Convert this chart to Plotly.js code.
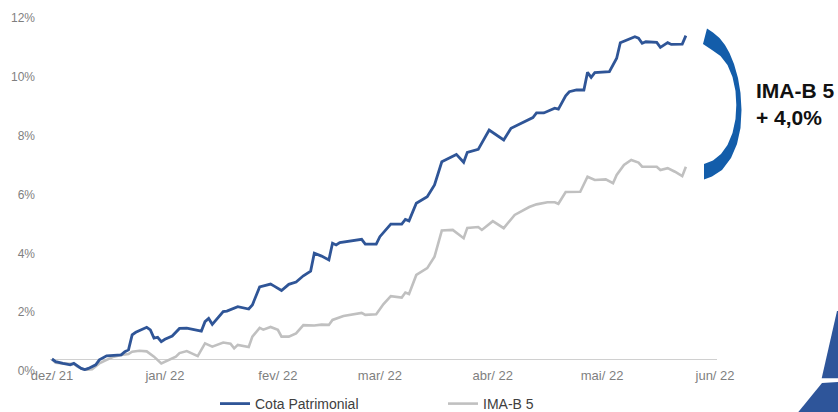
<!DOCTYPE html>
<html>
<head>
<meta charset="utf-8">
<script src="https://cdn.plot.ly/plotly-3.0.1.min.js"></script>
<style>html,body{margin:0;padding:0;background:#fff;}#chart{width:838px;height:412px;}</style>
</head>
<body>
<div id="chart"></div>
<script>
// ---- data (cumulative return, %) ----
const datesCota = ["2021-12-01","2021-12-02","2021-12-04","2021-12-06","2021-12-07","2021-12-09","2021-12-10","2021-12-11","2021-12-13","2021-12-14","2021-12-16","2021-12-20","2021-12-21","2021-12-22","2021-12-23","2021-12-24","2021-12-27","2021-12-28","2021-12-29","2021-12-30","2021-12-31","2022-01-01","2022-01-03","2022-01-05","2022-01-07","2022-01-11","2022-01-12","2022-01-13","2022-01-14","2022-01-17","2022-01-18","2022-01-21","2022-01-24","2022-01-25","2022-01-27","2022-01-30","2022-01-31","2022-02-02","2022-02-04","2022-02-06","2022-02-08","2022-02-10","2022-02-11","2022-02-13","2022-02-15","2022-02-16","2022-02-17","2022-02-18","2022-02-24","2022-02-25","2022-02-28","2022-03-01","2022-03-04","2022-03-07","2022-03-08","2022-03-09","2022-03-11","2022-03-14","2022-03-16","2022-03-18","2022-03-22","2022-03-24","2022-03-25","2022-03-28","2022-03-31","2022-04-04","2022-04-06","2022-04-12","2022-04-13","2022-04-15","2022-04-18","2022-04-19","2022-04-21","2022-04-22","2022-04-24","2022-04-26","2022-04-27","2022-04-28","2022-04-29","2022-05-03","2022-05-05","2022-05-06","2022-05-10","2022-05-11","2022-05-12","2022-05-13","2022-05-16","2022-05-17","2022-05-19","2022-05-20","2022-05-23","2022-05-24"];
const valuesCota = [0.00,-0.09,-0.15,-0.20,-0.15,-0.32,-0.36,-0.32,-0.20,-0.03,0.11,0.14,0.25,0.31,0.82,0.91,1.08,0.99,0.71,0.74,0.59,0.67,0.78,1.04,1.05,0.95,1.27,1.38,1.18,1.61,1.63,1.78,1.70,1.84,2.45,2.55,2.48,2.33,2.54,2.62,2.83,2.99,3.60,3.50,3.37,3.94,3.88,3.96,4.07,3.91,3.91,4.16,4.59,4.59,4.75,4.70,5.30,5.52,5.92,6.71,6.96,6.69,7.03,7.13,7.79,7.45,7.85,8.21,8.37,8.37,8.53,8.50,8.95,9.09,9.15,9.15,9.75,9.58,9.74,9.77,10.23,10.76,10.96,10.91,10.74,10.79,10.77,10.60,10.76,10.70,10.71,11.00];

const datesIma = ["2021-12-01","2021-12-02","2021-12-04","2021-12-07","2021-12-08","2021-12-10","2021-12-12","2021-12-14","2021-12-16","2021-12-18","2021-12-20","2021-12-22","2021-12-23","2021-12-25","2021-12-27","2021-12-29","2021-12-31","2022-01-02","2022-01-04","2022-01-05","2022-01-07","2022-01-10","2022-01-12","2022-01-14","2022-01-17","2022-01-19","2022-01-20","2022-01-21","2022-01-24","2022-01-25","2022-01-27","2022-01-28","2022-01-30","2022-02-01","2022-02-02","2022-02-04","2022-02-06","2022-02-08","2022-02-11","2022-02-13","2022-02-15","2022-02-16","2022-02-19","2022-02-24","2022-02-25","2022-02-28","2022-03-02","2022-03-04","2022-03-07","2022-03-08","2022-03-09","2022-03-11","2022-03-14","2022-03-16","2022-03-18","2022-03-21","2022-03-24","2022-03-25","2022-03-28","2022-03-29","2022-04-01","2022-04-04","2022-04-07","2022-04-11","2022-04-13","2022-04-16","2022-04-18","2022-04-19","2022-04-21","2022-04-25","2022-04-27","2022-04-29","2022-05-02","2022-05-04","2022-05-05","2022-05-07","2022-05-09","2022-05-11","2022-05-12","2022-05-16","2022-05-17","2022-05-19","2022-05-21","2022-05-23","2022-05-24"];
const valuesIma = [0.00,-0.13,-0.15,-0.17,-0.26,-0.37,-0.35,-0.15,-0.03,0.08,0.14,0.17,0.25,0.28,0.26,0.08,-0.15,-0.03,0.08,0.20,0.27,0.10,0.53,0.42,0.56,0.52,0.36,0.48,0.41,0.76,1.06,1.00,1.09,0.99,0.76,0.76,0.87,1.15,1.14,1.17,1.16,1.33,1.46,1.57,1.50,1.52,1.87,2.14,2.09,2.26,2.21,2.86,3.09,3.48,4.37,4.39,4.11,4.46,4.49,4.39,4.69,4.45,4.90,5.17,5.26,5.33,5.33,5.28,5.68,5.69,6.20,6.09,6.11,5.98,6.26,6.60,6.77,6.68,6.54,6.54,6.43,6.49,6.37,6.22,6.54];

const seriesNames = ["Cota Patrimonial", "IMA-B 5"];
const tickDates = ["2021-12-01","2022-01-01","2022-02-01","2022-03-01","2022-04-01","2022-05-01","2022-06-01"];
const tickLabels = ["dez/ 21","jan/ 22","fev/ 22","mar/ 22","abr/ 22","mai/ 22","jun/ 22"];
const yTicks = [0,2,4,6,8,10,12];
const yTickLabels = ["0%","2%","4%","6%","8%","10%","12%"];
const calloutLines = ["IMA-B 5", "+ 4,0%"];

// ---- layout helpers (pixel -> paper for decorations) ----
const W = 838, H = 412, ML = 50, MR = 121, MT = 3, MB = 41;
const PW = W - ML - MR, PH = H - MT - MB;
const px = (x) => (x - ML) / PW;
const py = (y) => (H - MB - y) / PH;
function pathOf(pts) {
  return pts.map((p, i) => (i ? "L" : "M") + px(p[0]).toFixed(5) + "," + py(p[1]).toFixed(5)).join(" ") + " Z";
}
const arrowPts = [[707,28.5],[713,32.5],[719.5,38],[725,45],[729.5,53],[734,64],[738,78],[740.5,93],[741.5,110],[740.5,128],[737,144],[731,158],[722,170],[712,176.5],[704,179.5],
                  [704,164],[713,160.5],[721,154],[727.5,145],[732.5,133],[735.5,119],[736.3,105],[735.5,91],[732.5,77],[727.5,65],[720.5,56],[712,50],[703,44]];
const tri1 = [[821.7,378.3],[837,311],[840,311],[840,378.3]];
const tri2 = [[796.7,414],[822,383],[840,382],[840,414]];

const traces = [
  {x: datesIma, y: valuesIma, name: seriesNames[1], type: "scatter", mode: "lines",
   line: {color: "#C0C0C0", width: 2.6}, legendrank: 2},
  {x: datesCota, y: valuesCota, name: seriesNames[0], type: "scatter", mode: "lines",
   line: {color: "#2F5597", width: 2.8}, legendrank: 1}
];

const layout = {
  width: W, height: H,
  margin: {l: ML, r: MR, t: MT, b: MB, pad: 0, autoexpand: false},
  paper_bgcolor: "#fff", plot_bgcolor: "#fff",
  font: {family: "Liberation Sans, Arial, sans-serif", color: "#7F7F7F"},
  showlegend: true,
  legend: {orientation: "h", x: px(215), xanchor: "left", y: py(404), yanchor: "middle",
           font: {size: 14, color: "#404040"}, entrywidth: 183, entrywidthmode: "pixels",
           bgcolor: "rgba(0,0,0,0)", itemwidth: 30},
  xaxis: {type: "date", range: ["2021-11-30 10:50", "2022-06-01 13:00"],
          tickmode: "array", tickvals: tickDates, ticktext: tickLabels, showgrid: false, zeroline: false,
          showline: false, ticks: "", tickfont: {size: 13, color: "#7F7F7F"}, automargin: false, ticklabelstandoff: -5},
  yaxis: {range: [-0.408, 12.109], autorange: false, tickmode: "array", tickvals: yTicks, ticktext: yTickLabels,
          showgrid: false, zeroline: true, zerolinecolor: "#D0D0D0", zerolinewidth: 1, showline: false, ticks: "",
          tickfont: {size: 12, color: "#7F7F7F"}, ticklabelshift: 12, ticklabelstandoff: 14, automargin: false},
  shapes: [
    {type: "path", xref: "paper", yref: "paper", path: pathOf(arrowPts), fillcolor: "#135DAA", line: {width: 0}},
    {type: "path", xref: "paper", yref: "paper", path: pathOf(tri1), fillcolor: "#2E559A", line: {width: 0}},
    {type: "path", xref: "paper", yref: "paper", path: pathOf(tri2), fillcolor: "#2E559A", line: {width: 0}}
  ],
  annotations: [
    {xref: "paper", yref: "paper", x: px(754), y: py(103.5), xanchor: "left", yanchor: "middle",
     text: calloutLines.map(s => "<b>" + s + "</b>").join("<br>"), showarrow: false, align: "left",
     font: {family: "Liberation Sans, Arial, sans-serif", size: 21, color: "#111"}}
  ]
};

Plotly.newPlot("chart", traces, layout, {staticPlot: true, displayModeBar: false});
</script>
</body>
</html>
